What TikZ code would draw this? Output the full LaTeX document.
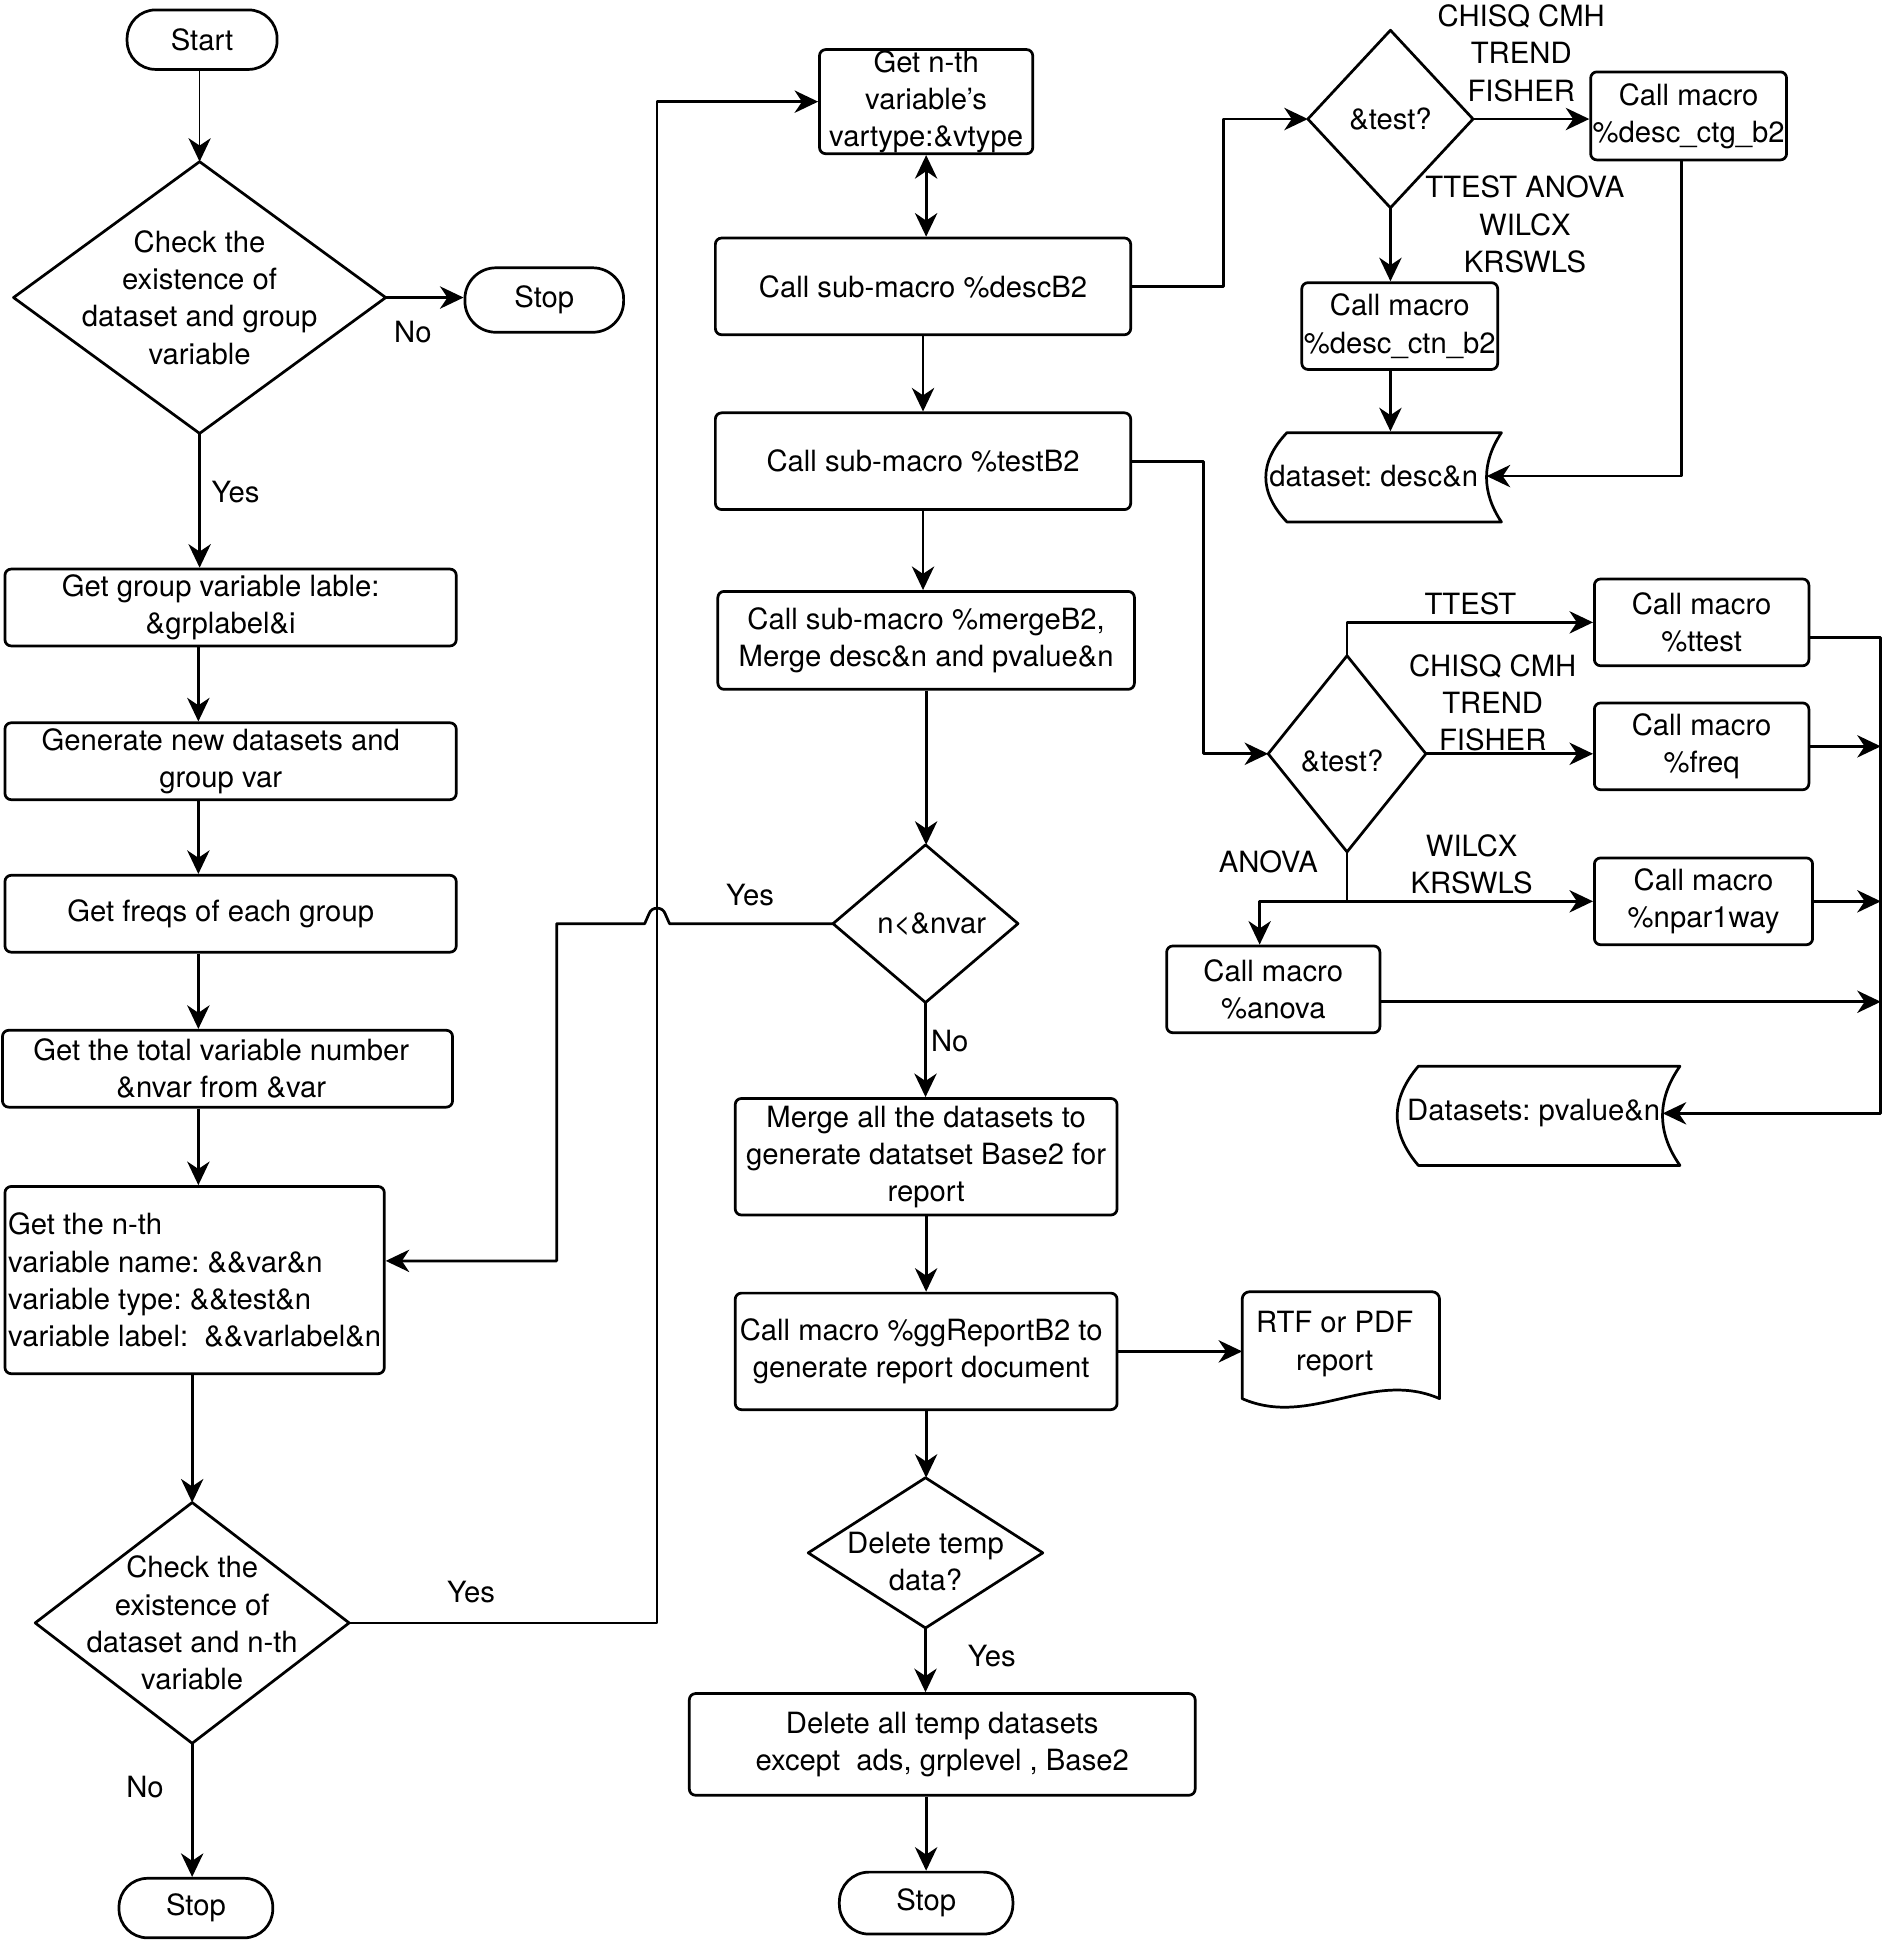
\documentclass[tikz,border=0pt]{standalone}
\usepackage{fontspec}
\setmainfont{TeX Gyre Heros}
\usetikzlibrary{arrows.meta,calc}
\begin{document}
\begin{tikzpicture}[x=0.5pt,y=-0.5pt, line width=1.1pt, line join=round,
 every node/.style={font=\fontsize{11.8}{15}\selectfont\frenchspacing, inner sep=0pt},
 bx/.style 2 args={draw, rounded corners=2.5pt, minimum width=#1*0.5pt, minimum height=#2*0.5pt, align=center},
 dm/.style 2 args={minimum width=#1*0.5pt, minimum height=#2*0.5pt, align=center},
 lbl/.style={align=center},
 arr/.style={-{Stealth[length=9.5pt,width=9pt,inset=3pt]}},
 darr/.style={{Stealth[length=9.5pt,width=9pt,inset=3pt]}-{Stealth[length=9.5pt,width=9pt,inset=3pt]}},
]
\useasboundingbox (0,0) rectangle (1523,1568);

% left column
\node[draw, rounded corners=11.5pt, minimum width=60.5pt, minimum height=24pt] (start) at (163,32) {Start};
\node[dm={298}{217}] (d1) at (161,240) {Check the\\existence of\\dataset and group\\variable};
\node[draw, rounded corners=12.5pt, minimum width=64pt, minimum height=26pt] (stop1) at (439,242) {Stop};
\node[bx={364}{62}, label={[lbl,xshift=-4pt]center:Get group variable lable:\\\&grplabel\&i}] (b1) at (186,490) {};
\node[bx={364}{62}, label={[lbl,xshift=-4pt]center:Generate new datasets and\\group var}] (b2) at (186,614) {};
\node[bx={364}{62}, label={[lbl,xshift=-4pt]center:Get freqs of each group}] (b3) at (186,737) {};
\node[bx={363}{62}, label={[lbl,xshift=-2.5pt]center:Get the total variable number\\\&nvar from \&var}] (b4) at (183.5,862) {};
\node[bx={306}{151}, align=left] (b5) at (157,1032.5) {Get the n-th\\variable name: \&\&var\&n\\variable type: \&\&test\&n\\variable label:\ \ \&\&varlabel\&n};
\node[dm={251}{192}] (d2) at (155,1309) {Check the\\existence of\\dataset and n-th\\variable};
\node[draw, rounded corners=11.5pt, minimum width=62pt, minimum height=24pt] (stop2) at (158,1539) {Stop};

% middle column
\node[bx={172}{84}] (gn) at (747,82) {Get n-th\\variable’s\\vartype:\&vtype};
\node[bx={335}{78}] (db) at (744.5,231) {Call sub-macro \%descB2};
\node[bx={335}{78}] (tb) at (744.5,372) {Call sub-macro \%testB2};
\node[bx={336}{79}] (mb) at (747,516.5) {Call sub-macro \%mergeB2,\\Merge desc\&n and pvalue\&n};
\node[dm={147}{125}, label={[xshift=2.5pt]center:n<\&nvar}] (d3) at (746.5,745) {};
\node[bx={308}{94}] (ma) at (747,933) {Merge all the datasets to\\generate datatset Base2 for\\report};
\node[bx={308}{94}, label={[lbl,xshift=-2pt]center:Call macro \%ggReportB2 to\\generate report document}] (gg) at (747,1090) {};
\node[minimum width=78.5pt, minimum height=42pt, label={[lbl,xshift=-2.5pt,yshift=0.5pt]center:RTF or PDF\\report}] (rtf) at (1081.5,1085) {};
\node[dm={187}{119}, label={[lbl,yshift=-3.5pt]center:Delete temp\\data?}] (d4) at (746.5,1252.5) {};
\node[bx={408}{82}] (da) at (760,1407) {Delete all temp datasets\\except\ \ ads, grplevel , Base2};
\node[draw, rounded corners=12pt, minimum width=70pt, minimum height=25pt] (stop3) at (747,1535) {Stop};

% right top
\node[dm={131}{141}] (t1) at (1121.5,96) {\&test?};
\node[bx={158}{71}] (ctg) at (1362,93.5) {Call macro\\\%desc\_ctg\_b2};
\node[bx={158}{70}] (ctn) at (1129,263) {Call macro\\\%desc\_ctn\_b2};
\node[minimum width=90pt, minimum height=35pt] (ds1) at (1108,384) {dataset: desc\&n};

% right bottom
\node[dm={125}{156}, label={[xshift=-2pt,yshift=-3pt]center:\&test?}] (t2) at (1086.5,608) {};
\node[bx={173}{70}] (tt) at (1372.5,502) {Call macro\\\%ttest};
\node[bx={173}{70}] (fq) at (1372.5,602) {Call macro\\\%freq};
\node[bx={176}{70}] (np) at (1374,727) {Call macro\\\%npar1way};
\node[bx={172}{70}] (an) at (1027,798) {Call macro\\\%anova};
\node[minimum width=103pt, minimum height=35pt] (pv) at (1237,898) {Datasets: pvalue\&n};

% labels
\node (l1) at (333,268) {No};
\node (l2) at (190,397) {Yes};
\node (l3) at (380,1284) {Yes};
\node (l4) at (117,1441) {No};
\node (l5) at (605,722) {Yes};
\node (l6) at (766,840) {No};
\node (l7) at (800,1336) {Yes};
\node[lbl] (l8) at (1227,43) {CHISQ CMH\\TREND\\FISHER};
\node[lbl] (l9) at (1230,181) {TTEST ANOVA\\WILCX\\KRSWLS};
\node (l10) at (1186,487) {TTEST};
\node[lbl] (l11) at (1204,567) {CHISQ CMH\\TREND\\FISHER};
\node (l12) at (1023,695) {ANOVA};
\node[lbl] (l13) at (1187,697) {WILCX\\KRSWLS};

% diamonds
\foreach \n in {d1,d2,d3,d4,t1,t2}
  \draw (\n.north) -- (\n.east) -- (\n.south) -- (\n.west) -- cycle;

% data stores
\draw (1038,349) -- (1211,349) .. controls (1195,373) and (1195,397) .. (1211,421)
  -- (1038,421) .. controls (1015.3,397) and (1015.3,373) .. (1038,349) -- cycle;
\draw (1144,860) -- (1355,860) .. controls (1336.3,886.7) and (1336.3,913.3) .. (1355,940)
  -- (1144,940) .. controls (1121.3,913.3) and (1121.3,886.7) .. (1144,860) -- cycle;
% document
\draw (rtf.south west) [rounded corners=3pt] -- (rtf.north west) -- (rtf.north east) [sharp corners] -- (rtf.south east)
  .. controls +(-55,-24) and +(55,24) .. (rtf.south west) -- cycle;

% coordinates
\coordinate (cx) at (160,0);
\coordinate (j1) at (987,0);
\coordinate (j2) at (530,0);
\coordinate (j3) at (449,1017);
\coordinate (j4) at (971,0);
\coordinate (j7) at (1016,0);
\coordinate (bus) at (1517,0);

% connectors left
\draw[arr, line width=0.6pt] (start.south -| d1.north) -- (d1.north);
\draw[arr] (d1.east) -- (d1.east -| stop1.west);
\draw[arr] (d1.south) -- (d1.south |- b1.north);
\draw[arr] (b1.south -| cx) -- (b2.north -| cx);
\draw[arr] (b2.south -| cx) -- (b3.north -| cx);
\draw[arr] (b3.south -| cx) -- (b4.north -| cx);
\draw[arr] (b4.south -| cx) -- (b5.north -| cx);
\draw[arr] (b5.south -| d2.north) -- (d2.north);
\draw[arr] (d2.south) -- (d2.south |- stop2.north);
\draw[arr] (d2.east) -- (d2.east -| j2) -- (j2 |- gn.west) -- (gn.west);

% connectors middle
\draw[darr] (gn.south) -- (gn.south |- db.north);
\draw[arr] (db.south) -- (tb.north);
\draw[arr] (tb.south) -- (tb.south |- mb.north);
\draw[arr] (mb.south) -- (mb.south |- d3.north);
\draw[arr] (d3.west) -- (540,745) -- (536.5,737) .. controls (534.5,731) and (525.5,731) .. (523.5,737) -- (520,745)
  -- (d3.west -| j3) -- (j3) -- (j3 -| b5.east);
\draw[arr] (d3.south) -- (d3.south |- ma.north);
\draw[arr] (ma.south) -- (gg.north);
\draw[arr] (gg.east) -- (gg.east -| rtf.west);
\draw[arr] (gg.south) -- (gg.south |- d4.north);
\draw[arr] (d4.south) -- (d4.south |- da.north);
\draw[arr] (stop3.north |- da.south) -- (stop3.north);

% connectors right top
\draw[arr] (db.east) -- (db.east -| j1) -- (j1 |- t1.west) -- (t1.west);
\draw[arr] (t1.east) -- (t1.east -| ctg.west);
\draw[arr] (t1.south) -- (t1.south |- ctn.north);
\draw[arr] (t1.south |- ctn.south) -- (t1.south |- ds1.north);
\draw[arr] ([xshift=-3pt]ctg.south) -- ([xshift=-3pt]ctg.south |- ds1.east) -- (ds1.east);

% connectors right bottom
\draw[arr] (tb.east) -- (tb.east -| j4) -- (j4 |- t2.west) -- (t2.west);
\draw[arr] (t2.north) -- (t2.north |- tt.west) -- (tt.west);
\draw[arr] (t2.east) -- (t2.east -| fq.west);
\draw[arr] (t2.south) -- (t2.south |- np.west) -- (np.west);
\draw[arr] (t2.south |- np.west) -- (j7 |- np.west) -- (j7 |- an.north);
\draw[arr] ([yshift=-6pt]tt.east) -- ([yshift=-6pt]tt.east -| bus) -- (bus |- pv.east) -- (pv.east);
\draw[arr] (fq.east) -- (fq.east -| bus);
\draw[arr] (np.east) -- (np.east -| bus);
\draw[arr] ([yshift=-5pt]an.east) -- ([yshift=-5pt]an.east -| bus);
\end{tikzpicture}
\end{document}
